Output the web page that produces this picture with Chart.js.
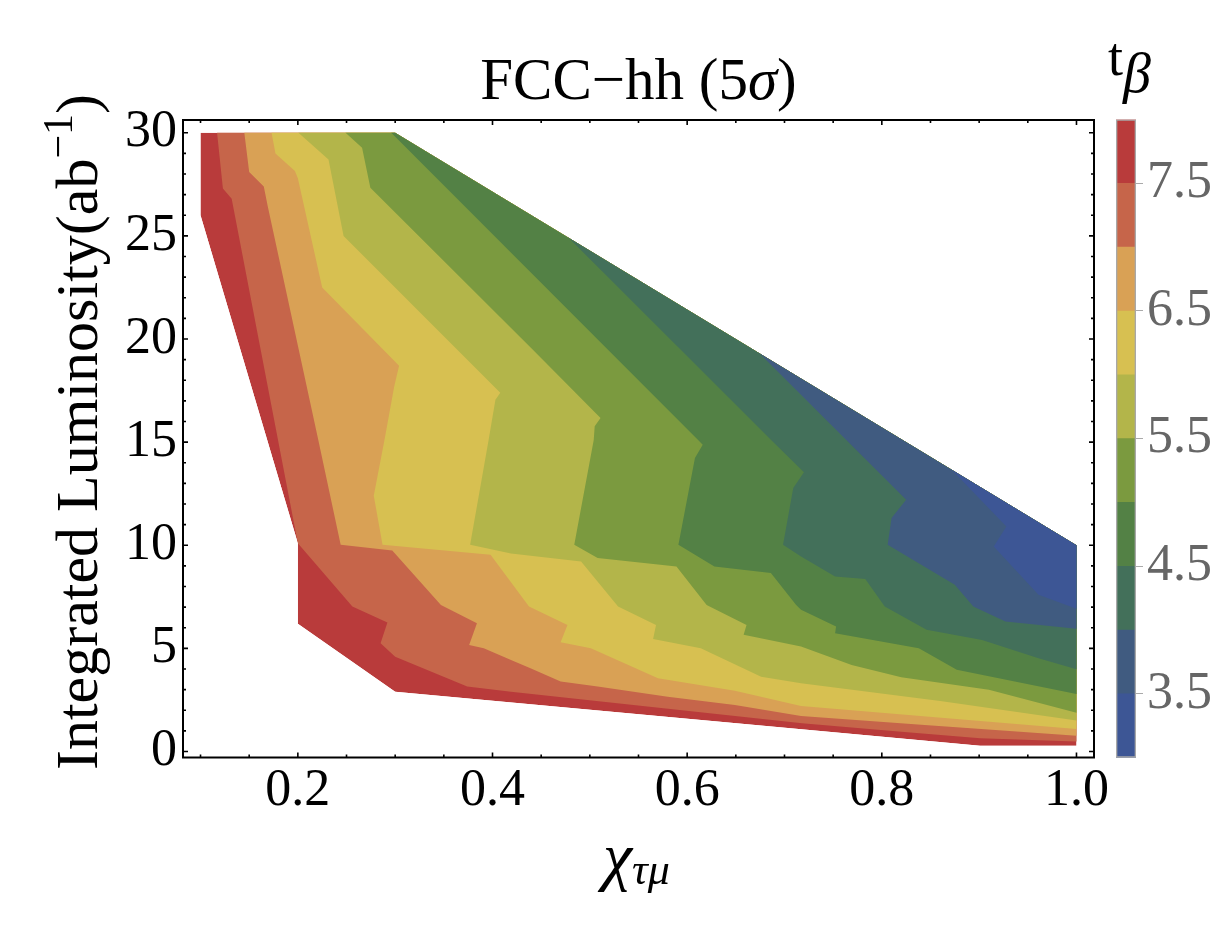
<!DOCTYPE html>
<html lang="en">
<head>
    <meta charset="UTF-8">
    <title>FCC-hh (5σ)</title>
    <script src="https://cdn.jsdelivr.net/npm/chart.js"></script>
    <style>
        html, body { margin: 0; padding: 0; background: #fff; }
        #wrap { position: relative; width: 1232px; height: 950px; }
        #main { position: absolute; left: 0; top: 0; }
        #bar { position: absolute; left: 1100px; top: 75px; }
    </style>
</head>
<body>
<div id="wrap">
    <canvas id="main" width="1232" height="950"></canvas>
    <canvas id="bar" width="132" height="728"></canvas>
</div>
<script>
    // axis ticks
    const xMajorTicks = [0.2, 0.4, 0.6, 0.8, 1.0];
    const xMinorTicks = [0.1, 0.15, 0.2, 0.25, 0.3, 0.35, 0.4, 0.45, 0.5, 0.55, 0.6, 0.65, 0.7, 0.75, 0.8, 0.85, 0.9, 0.95, 1.0];
    const yMajorTicks = [0, 5, 10, 15, 20, 25, 30];
    const yMinorTicks = [0, 1, 2, 3, 4, 5, 6, 7, 8, 9, 10, 11, 12, 13, 14, 15, 16, 17, 18, 19, 20, 21, 22, 23, 24, 25, 26, 27, 28, 29, 30];
    const barTicks = [3.5, 4.5, 5.5, 6.5, 7.5];

    // t_beta levels and band colours (band i = levels[i]..levels[i+1])
    const levels = [3, 3.5, 4, 4.5, 5, 5.5, 6, 6.5, 7, 7.5, 8];
    const bandColors = ['#3d5695', '#405b80', '#43705a', '#538145', '#7b9a3f', '#b3b54a', '#d7c051', '#d9a155', '#c6654a', '#b93b3b'];

    // region covered by the scan (x = chi, y = luminosity)
    const domain = [[0.1, 30], [0.3, 30], [1.0, 10.0], [1.0, 0.28], [0.901, 0.28], [0.3, 2.9], [0.2, 6.2], [0.2, 10.1], [0.1, 26.0]];

    // contour lines, from the upper/left edge to the right edge
    const t35 = [[0.85, 14.73], [0.928, 10.91], [0.915, 9.94], [0.961, 7.6], [1.0, 6.92]];
    const t40 = [[0.65, 20.45], [0.825, 12.21], [0.81, 11.32], [0.806, 10.02], [0.875, 8.08], [0.894, 7.03], [0.927, 6.3], [1.0, 5.95]];
    const t45 = [[0.45, 26.27], [0.48, 24.83], [0.686, 15.12], [0.72, 13.54], [0.709, 12.78], [0.6985, 10.02], [0.717, 9.46], [0.752, 8.49], [0.783, 8.36], [0.803, 7.03], [0.846, 5.9], [0.903, 5.41], [0.961, 4.52], [1.0, 3.99]];
    const t50 = [[0.296, 30], [0.611, 15.12], [0.616, 14.88], [0.608, 14.23], [0.591, 10.02], [0.628, 8.97], [0.686, 8.65], [0.712, 7.11], [0.717, 6.87], [0.753, 6.06], [0.752, 5.74], [0.838, 5.01], [0.877, 3.96], [1.0, 2.79]];
    const t55 = [[0.249, 30], [0.266, 29.28], [0.2745, 27.34], [0.443, 19.41], [0.511, 16.17], [0.505, 15.77], [0.504, 15.1], [0.484, 10.02], [0.508, 9.38], [0.589, 8.97], [0.62, 7.11], [0.661, 6.14], [0.658, 5.66], [0.717, 5.09], [0.769, 4.2], [0.82, 3.6], [0.91, 3.0], [1.0, 1.88]];
    const t60 = [[0.2006, 30], [0.2315, 28.7], [0.247, 25.0], [0.408, 17.39], [0.403, 17.06], [0.396, 15.1], [0.377, 10.02], [0.419, 9.6], [0.491, 9.21], [0.529, 7.03], [0.568, 6.14], [0.565, 5.45], [0.614, 5.01], [0.676, 3.63], [0.717, 3.31], [0.86, 2.45], [1.0, 1.5]];
    const t65 = [[0.173, 30], [0.177, 29.0], [0.197, 28.15], [0.2, 27.8], [0.225, 22.5], [0.304, 18.7], [0.299, 17.7], [0.289, 15.1], [0.278, 12.4], [0.287, 10.02], [0.398, 9.54], [0.4375, 7.03], [0.477, 6.14], [0.47, 5.3], [0.501, 5.01], [0.57, 3.55], [0.649, 2.95], [0.717, 2.21], [0.855, 1.66], [1.0, 1.09]];
    const t70 = [[0.145, 30], [0.15, 28.1], [0.165, 27.4], [0.169, 26.45], [0.221, 15.1], [0.244, 10.02], [0.297, 9.75], [0.347, 7.11], [0.384, 6.22], [0.376, 5.17], [0.391, 5.01], [0.419, 4.44], [0.439, 4.04], [0.47, 3.39], [0.508, 3.15], [0.58, 2.66], [0.649, 2.26], [0.717, 1.72], [0.844, 1.29], [1.0, 0.77]];
    const t75 = [[0.117, 30], [0.123, 27.3], [0.132, 26.8], [0.2, 10.1], [0.256, 7.03], [0.292, 6.25], [0.285, 5.25], [0.3, 4.6], [0.374, 3.15], [0.419, 2.9], [0.718, 1.37], [0.82, 0.96], [0.901, 0.64], [1.0, 0.48]];

    const contours = [t35, t40, t45, t50, t55, t60, t65, t70, t75];
    const serif = 'Liberation Serif';

    Chart.defaults.font.family = serif;
    Chart.defaults.color = '#000';

    // each contour closes over the upper right side; everything is clipped to the domain
    const toPoints = arr => arr.map(([x, y]) => ({x, y}));
    const closeUpperRight = c => [[c[0][0], 32], ...c, [1.1, c[c.length - 1][1]], [1.1, 32]];

    const layerStyle = {showLine: true, fill: 'shape', borderWidth: 0, pointRadius: 0, pointHoverRadius: 0};
    const datasets = [{...layerStyle, data: toPoints(domain), backgroundColor: bandColors[9], order: 100}];
    contours.forEach((c, k) => {
        datasets.push({...layerStyle, data: toPoints(closeUpperRight(c)), backgroundColor: bandColors[k], order: k + 1});
    });

    const clipToDomain = {
        id: 'clipToDomain',
        beforeDatasetsDraw(chart) {
            const {ctx, scales: {x, y}} = chart;
            ctx.save();
            ctx.beginPath();
            domain.forEach(([dx, dy], i) => {
                const px = x.getPixelForValue(dx), py = y.getPixelForValue(dy);
                if (i) ctx.lineTo(px, py); else ctx.moveTo(px, py);
            });
            ctx.closePath();
            ctx.clip();
        },
        afterDatasetsDraw(chart) {
            chart.ctx.restore();
        }
    };

    // Mathematica style frame with inward ticks on all sides
    const frameTicks = {
        id: 'frameTicks',
        afterDraw(chart) {
            const {ctx, chartArea: a, scales: {x, y}} = chart;
            ctx.save();
            ctx.strokeStyle = '#000';
            ctx.lineWidth = 2;
            ctx.strokeRect(a.left, a.top, a.right - a.left, a.bottom - a.top);
            ctx.lineWidth = 1.6;
            ctx.beginPath();
            xMinorTicks.forEach(v => {
                const px = x.getPixelForValue(v);
                const len = xMajorTicks.includes(v) ? 5 : 3;
                ctx.moveTo(px, a.bottom); ctx.lineTo(px, a.bottom - len);
                ctx.moveTo(px, a.top); ctx.lineTo(px, a.top + len);
            });
            yMinorTicks.forEach(v => {
                const py = y.getPixelForValue(v);
                const len = yMajorTicks.includes(v) ? 5 : 3;
                ctx.moveTo(a.left, py); ctx.lineTo(a.left + len, py);
                ctx.moveTo(a.right, py); ctx.lineTo(a.right - len, py);
            });
            ctx.stroke();
            ctx.restore();
        }
    };

    function runsWidth(ctx, runs) {
        return runs.reduce((w, r) => { ctx.font = r.font; return w + ctx.measureText(r.text).width; }, 0);
    }
    function drawRuns(ctx, runs, x, y) {
        runs.forEach(r => {
            ctx.font = r.font;
            ctx.fillText(r.text, x, y + (r.dy || 0));
            x += ctx.measureText(r.text).width;
        });
    }

    const labels = {
        id: 'labels',
        afterDraw(chart) {
            const {ctx, chartArea: a} = chart;
            const cx = (a.left + a.right) / 2;
            ctx.save();
            ctx.fillStyle = '#000';
            ctx.textBaseline = 'alphabetic';
            ctx.textAlign = 'left';

            const title = [
                {text: 'FCC\u2212hh (5', font: `59px ${serif}`},
                {text: 'σ', font: `italic 59px ${serif}`},
                {text: ')', font: `59px ${serif}`}
            ];
            drawRuns(ctx, title, cx - runsWidth(ctx, title) / 2, 99);

            const xTitle = [
                {text: 'χ', font: `italic 66px ${serif}`},
                {text: 'τμ', font: `italic 44px ${serif}`, dy: 6}
            ];
            drawRuns(ctx, xTitle, cx - 2 - runsWidth(ctx, xTitle) / 2, 878);

            const yTitle = [
                {text: 'Integrated Luminosity(ab', font: `60px ${serif}`},
                {text: '\u22121', font: `42px ${serif}`, dy: -25},
                {text: ')', font: `60px ${serif}`}
            ];
            ctx.save();
            ctx.translate(97, 432);
            ctx.rotate(-Math.PI / 2);
            drawRuns(ctx, yTitle, -runsWidth(ctx, yTitle) / 2, 0);
            ctx.restore();

            const barTitle = [
                {text: 't', font: `54px ${serif}`},
                {text: 'β', font: `italic 56px ${serif}`, dy: 17}
            ];
            drawRuns(ctx, barTitle, 1108, 75);
            ctx.restore();
        }
    };

    new Chart(document.getElementById('main'), {
        type: 'scatter',
        data: {datasets},
        options: {
            responsive: false,
            animation: false,
            devicePixelRatio: 1,
            events: [],
            layout: {padding: {left: 0, right: 138, top: 120, bottom: 0}},
            plugins: {legend: {display: false}, tooltip: {enabled: false}},
            scales: {
                x: {
                    type: 'linear', min: 0.082, max: 1.018,
                    grid: {display: false, drawTicks: false},
                    border: {display: false},
                    afterBuildTicks: s => { s.ticks = xMajorTicks.map(v => ({value: v})); },
                    afterFit: s => { s.height = 192.5; },
                    ticks: {
                        autoSkip: false, maxRotation: 0, padding: 3, color: '#000',
                        font: {size: 52, family: serif},
                        callback: v => v.toFixed(1)
                    }
                },
                y: {
                    type: 'linear', min: -0.29, max: 30.62,
                    grid: {display: false, drawTicks: false},
                    border: {display: false},
                    afterBuildTicks: s => { s.ticks = yMajorTicks.map(v => ({value: v})); },
                    afterFit: s => { s.width = 183; },
                    ticks: {
                        padding: 6, color: '#000',
                        font: {size: 52, family: serif},
                        callback: v => String(v)
                    }
                }
            }
        },
        plugins: [clipToDomain, frameTicks, labels]
    });

    // colour bar legend
    const barSets = bandColors.map((c, i) => ({
        data: [[levels[i], levels[i + 1]]],
        backgroundColor: c,
        borderWidth: 0
    }));
    barSets.push({
        data: [[levels[0], levels[levels.length - 1]]],
        backgroundColor: 'rgba(0,0,0,0)',
        borderColor: '#a8a8a8',
        borderWidth: 1,
        borderSkipped: false,
        order: -1
    });

    new Chart(document.getElementById('bar'), {
        type: 'bar',
        data: {labels: [''], datasets: barSets},
        options: {
            responsive: false,
            animation: false,
            devicePixelRatio: 1,
            events: [],
            layout: {padding: {left: 16, right: 0, top: 44.5, bottom: 45.3}},
            plugins: {legend: {display: false}, tooltip: {enabled: false}},
            datasets: {bar: {grouped: false, barPercentage: 1, categoryPercentage: 1}},
            scales: {
                x: {display: false},
                y: {
                    position: 'right', min: 3, max: 8,
                    afterBuildTicks: s => { s.ticks = barTicks.map(v => ({value: v})); },
                    afterFit: s => { s.width = 96; },
                    grid: {drawOnChartArea: false, drawTicks: true, tickLength: 7, color: '#aaaaaa', lineWidth: 1},
                    border: {display: false},
                    ticks: {
                        padding: 4, color: '#666666',
                        font: {size: 52, family: serif},
                        callback: v => v.toFixed(1)
                    }
                }
            }
        }
    });
</script>
</body>
</html>
